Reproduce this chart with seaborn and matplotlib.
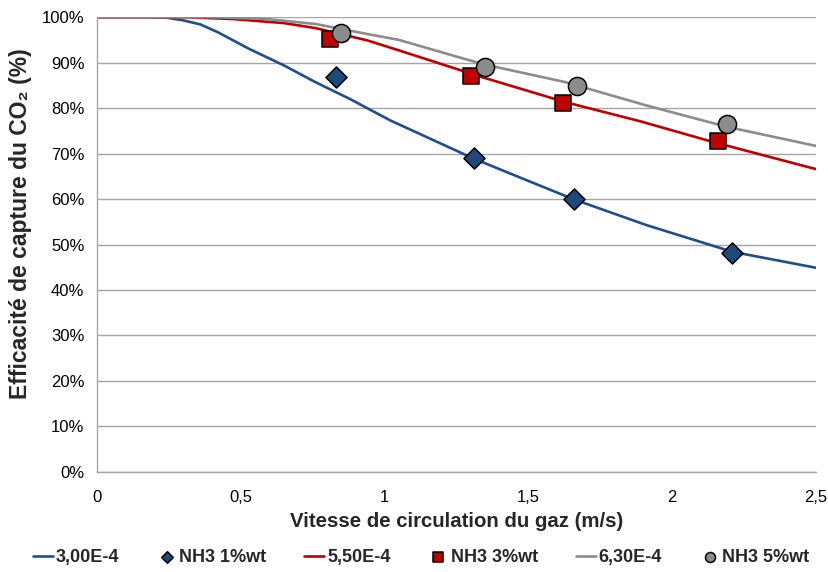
import matplotlib
matplotlib.use("Agg")
import matplotlib.pyplot as plt
from matplotlib.ticker import FuncFormatter, MultipleLocator
import seaborn as sns

# ---------- data ----------
# model curves (x in m/s, y in %)
blue_x = [0, 0.18, 0.24, 0.30, 0.36, 0.42, 0.53, 0.65, 0.76, 0.88, 1.02, 1.31, 1.50, 1.66, 1.91, 2.21, 2.50]
blue_y = [100, 100, 99.9, 99.3, 98.4, 96.7, 93.0, 89.4, 85.7, 82.0, 77.3, 68.9, 64.0, 59.9, 54.3, 48.4, 44.9]

red_x = [0, 0.30, 0.47, 0.65, 0.76, 0.94, 1.05, 1.34, 1.63, 1.89, 2.14, 2.50]
red_y = [100, 100, 99.6, 98.7, 97.6, 94.9, 92.7, 86.8, 81.3, 77.1, 72.6, 66.6]

gray_x = [0, 0.40, 0.59, 0.76, 0.94, 1.05, 1.34, 1.63, 1.91, 2.19, 2.50]
gray_y = [100, 100, 99.6, 98.5, 96.3, 95.0, 89.7, 85.7, 80.6, 75.9, 71.7]

# measured points
nh3_1_x = [0.83, 1.31, 1.66, 2.21]
nh3_1_y = [86.9, 69.1, 60.1, 48.1]
nh3_3_x = [0.81, 1.30, 1.62, 2.16]
nh3_3_y = [95.3, 87.1, 81.2, 72.8]
nh3_5_x = [0.85, 1.35, 1.67, 2.19]
nh3_5_y = [96.6, 89.1, 84.9, 76.6]

labels = ["3,00E-4", "NH3 1%wt", "5,50E-4", "NH3 3%wt", "6,30E-4", "NH3 5%wt"]

BLUE = "#1F4E8C"
BLUE_FILL = "#1F497D"
RED = "#C00000"
GRAY = "#8C8C8C"

sns.set_theme(style="white")
plt.rcParams["font.family"] = ["Liberation Sans", "DejaVu Sans"]

fig, ax = plt.subplots(figsize=(8.29, 5.72), dpi=100)
fig.subplots_adjust(left=0.117, right=0.984, top=0.970, bottom=0.175)

sns.lineplot(x=blue_x, y=blue_y, ax=ax, color=BLUE, linewidth=1.9, label=labels[0])
sns.scatterplot(x=nh3_1_x, y=nh3_1_y, ax=ax, marker="D", s=115, color=BLUE_FILL,
                edgecolor="black", linewidth=1.1, label=labels[1], zorder=3)
sns.lineplot(x=red_x, y=red_y, ax=ax, color=RED, linewidth=1.9, label=labels[2])
sns.scatterplot(x=nh3_3_x, y=nh3_3_y, ax=ax, marker="s", s=140, color=RED,
                edgecolor="black", linewidth=1.1, label=labels[3], zorder=3)
sns.lineplot(x=gray_x, y=gray_y, ax=ax, color=GRAY, linewidth=1.9, label=labels[4])
sns.scatterplot(x=nh3_5_x, y=nh3_5_y, ax=ax, marker="o", s=170, color=GRAY,
                edgecolor="black", linewidth=1.1, label=labels[5], zorder=3)

ax.set_xlim(0, 2.5)
ax.set_ylim(0, 100)
ax.xaxis.set_major_locator(MultipleLocator(0.5))
ax.yaxis.set_major_locator(MultipleLocator(10))
ax.xaxis.set_major_formatter(FuncFormatter(lambda v, p: f"{v:g}".replace(".", ",")))
ax.yaxis.set_major_formatter(FuncFormatter(lambda v, p: f"{v:.0f}%"))

ax.grid(axis="y", color="#A6A6A6", linewidth=1.0)
ax.grid(axis="x", visible=False)
for side in ["top", "right"]:
    ax.spines[side].set_visible(False)
for side in ["left", "bottom"]:
    ax.spines[side].set_color("#A6A6A6")
    ax.spines[side].set_linewidth(1.0)
ax.tick_params(axis="both", which="major", direction="out", length=5, width=1.0,
               color="#A6A6A6", labelsize=12, labelcolor="black", pad=4)
ax.tick_params(axis="x", pad=8)
ax.set_axisbelow(True)

ax.set_xlabel("Vitesse de circulation du gaz (m/s)", fontsize=14.7, fontweight="bold", labelpad=5)
ax.set_ylabel("Efficacité de capture du CO₂ (%)", fontsize=16.5, fontweight="bold")
ax.yaxis.set_label_coords(-0.09, 0.545)

handles, lbls = ax.get_legend_handles_labels()
ax.get_legend().remove()
fig.legend(handles, lbls, loc="lower center", bbox_to_anchor=(0.508, -0.018), ncol=6,
           frameon=False, handlelength=1.1, handletextpad=0.15, columnspacing=2.1,
           markerscale=0.55, prop={"size": 13, "weight": "bold"})

fig.savefig("out.png", dpi=100)
